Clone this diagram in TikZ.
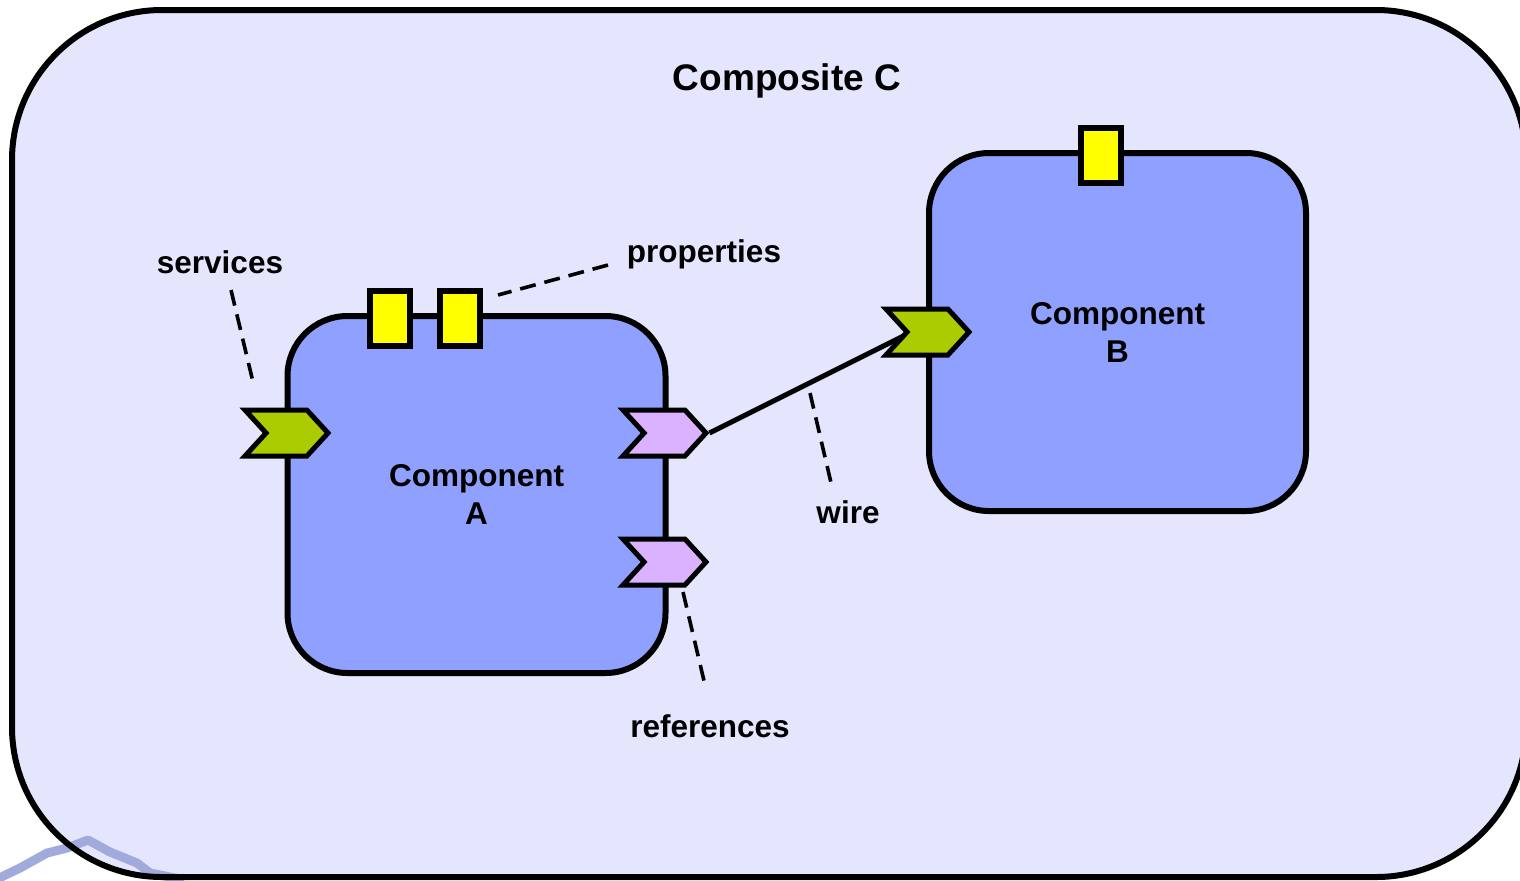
\documentclass[tikz,border=0pt]{standalone}
\usepackage{fontspec}
\setmainfont{Liberation Sans}
\usetikzlibrary{shapes.symbols}

\definecolor{compositebg}{RGB}{227,230,252}
\definecolor{compfill}{RGB}{143,160,255}
\definecolor{propyellow}{RGB}{255,255,0}
\definecolor{svcgreen}{RGB}{170,204,0}
\definecolor{refviolet}{RGB}{218,178,255}
\definecolor{logoblue}{RGB}{160,171,220}

\pgfdeclarelayer{back}
\pgfdeclarelayer{wires}
\pgfsetlayers{back,wires,main}

\tikzset{
  component/.style={draw, line width=3pt, fill=compfill, rounded corners=30pt,
    inner sep=0pt, outer sep=0pt, align=center,
    font=\fontsize{15.75}{19}\selectfont\bfseries},
  propbox/.style={draw, line width=3pt, fill=propyellow, inner sep=0pt,
    minimum width=20pt, minimum height=27.5pt},
  port/.style={draw, line width=2.5pt, shape=signal, signal to=east,
    signal from=west, signal pointer angle=95, inner sep=0pt,
    minimum width=41.5pt, minimum height=23pt, line join=miter},
  service/.style={port, fill=svcgreen},
  reference/.style={port, fill=refviolet},
  label/.style={font=\fontsize{15.75}{19}\selectfont\bfseries, inner sep=0pt},
  hint/.style={line width=1.8pt, dash pattern=on 8pt off 4.5pt},
  wireline/.style={line width=2.5pt}
}

\begin{document}
\begin{tikzpicture}[x=0.5pt, y=-0.5pt]
  \useasboundingbox (0,0) rectangle (1520,880);

  % composite background, logo trace and border
  \begin{pgfonlayer}{back}
    \fill[compositebg, rounded corners=75pt] (12,10) rectangle (1526,877);
    \draw[logoblue, line width=4.5pt, line join=round, line cap=round]
      (-5,880) -- (20,868) -- (47,853) -- (67,848) -- (88,840)
      -- (110,852) -- (137,863) -- (150,873) -- (180,879);
    \draw[line width=3pt, rounded corners=75pt] (12,10) rectangle (1526,877);
  \end{pgfonlayer}

  \node[font=\fontsize{18.5}{22}\selectfont\bfseries] (title) at (787,81) {Composite C};

  % components
  \node[component, minimum width=189pt, minimum height=178.5pt] (compA) at (476.5,494.5) {Component\\A};
  \node[component, minimum width=188.5pt, minimum height=179pt] (compB) at (1117.5,332) {Component\\B};

  % properties
  \node[propbox] (propA1) at (390,318) {};
  \node[propbox] (propA2) at (459.5,318) {};
  \node[propbox] (propB) at (1101,155.5) {};

  % services and references
  \node[service] (svcA) at (286.5,433) {};
  \node[reference] (refA1) at (664.5,433) {};
  \node[reference] (refA2) at (664.5,562) {};
  \node[service] (svcB) at (927.5,332) {};

  % wire from the reference tip into the notch of the service
  \begin{pgfonlayer}{wires}
    \draw[wireline] (refA1.east) -- ([xshift=-8pt]svcB.center);
  \end{pgfonlayer}

  % labels
  \node[label] (lblServices) at (220,262) {services};
  \node[label] (lblProperties) at (704,254) {properties};
  \node[label] (lblWire) at (848,512) {wire};
  \node[label] (lblReferences) at (710,726) {references};

  % dashed pointers
  \coordinate (svcHintA) at (231,290);
  \coordinate (svcHintB) at (253,382);
  \coordinate (propHintA) at (608,265);
  \coordinate (propHintB) at (498,295);
  \coordinate (wireHintA) at (810,393);
  \coordinate (wireHintB) at (832,487);
  \coordinate (refHintA) at (683,592);
  \coordinate (refHintB) at (705,685);
  \draw[hint] (svcHintA) -- (svcHintB);
  \draw[hint] (propHintA) -- (propHintB);
  \draw[hint] (wireHintA) -- (wireHintB);
  \draw[hint] (refHintA) -- (refHintB);
\end{tikzpicture}
\end{document}
